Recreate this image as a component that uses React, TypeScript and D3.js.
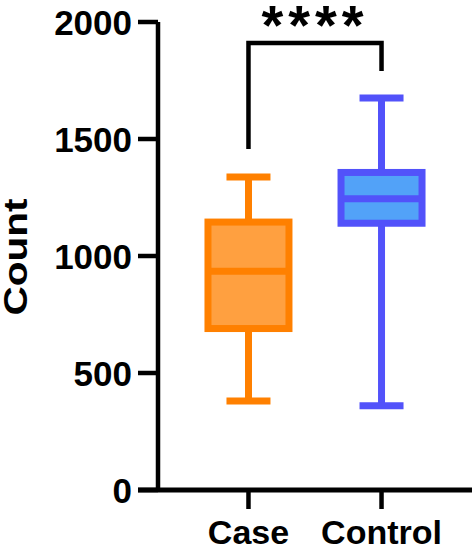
import * as d3 from 'd3';

// data
const groups = ['Case', 'Control'];
const mins = [380, 360];
const q1s = [690, 1140];
const medians = [935, 1245];
const q3s = [1145, 1357];
const maxs = [1338, 1675];
const strokeColors = ['#FF8000', '#5252FA'];
const fillColors = ['#FFA040', '#52A2F8'];
const yTicks = [0, 500, 1000, 1500, 2000];
const yLabel = 'Count';
const sigLabel = '****';

const W = 473;
const H = 548;
const FONT = 'Arial, "Liberation Sans", Helvetica, sans-serif';

const App = () => {
  const y = d3.scaleLinear().domain([0, 2000]).range([490, 22]);
  const x = d3.scalePoint<string>().domain(groups).range([158, 472]).padding(0.68);

  const boxW = 81;
  const capW = 44;
  const sw = 7;

  // significance bracket
  const bx0 = x('Case')!;
  const bx1 = x('Control')!;
  const bTop = 43;

  return (
    <svg width={W} height={H} style={{ position: 'absolute', left: 0, top: 0, background: '#fff' }} fontFamily={FONT}>
      {/* axes */}
      <line x1={158} x2={158} y1={y(2000)} y2={y(0)} stroke="#000" strokeWidth={4.5} />
      <line x1={138} x2={472} y1={y(0)} y2={y(0)} stroke="#000" strokeWidth={5} />
      {yTicks.map(t => (
        <g key={t}>
          <line x1={138} x2={158} y1={y(t)} y2={y(t)} stroke="#000" strokeWidth={4.5} />
          <text x={132} y={y(t) + 12.5} textAnchor="end" fontSize={35} fontWeight="bold">{t}</text>
        </g>
      ))}
      {groups.map(g => (
        <g key={g}>
          <line x1={x(g)} x2={x(g)} y1={y(0)} y2={509} stroke="#000" strokeWidth={4.5} />
          <text x={x(g)} y={544} textAnchor="middle" fontSize={34} fontWeight="bold">{g}</text>
        </g>
      ))}
      <text transform="translate(27,257) rotate(-90)" textAnchor="middle" fontSize={33} fontWeight="bold"
        textLength={117} lengthAdjust="spacingAndGlyphs">{yLabel}</text>

      {/* boxes */}
      {groups.map((g, i) => {
        const cx = x(g)!;
        return (
          <g key={g} stroke={strokeColors[i]} strokeWidth={sw}>
            <line x1={cx} x2={cx} y1={y(maxs[i])} y2={y(q3s[i])} />
            <line x1={cx} x2={cx} y1={y(q1s[i])} y2={y(mins[i])} />
            <line x1={cx - capW / 2} x2={cx + capW / 2} y1={y(maxs[i])} y2={y(maxs[i])} />
            <line x1={cx - capW / 2} x2={cx + capW / 2} y1={y(mins[i])} y2={y(mins[i])} />
            <rect x={cx - boxW / 2} y={y(q3s[i])} width={boxW} height={y(q1s[i]) - y(q3s[i])} fill={fillColors[i]} />
            <line x1={cx - boxW / 2} x2={cx + boxW / 2} y1={y(medians[i])} y2={y(medians[i])} />
          </g>
        );
      })}

      {/* significance */}
      <path d={`M${bx0},${y(maxs[0]) - 28}V${bTop}H${bx1}V${y(maxs[1]) - 27}`} fill="none" stroke="#000" strokeWidth={4.5} />
      <text x={(bx0 + bx1) / 2} y={44} textAnchor="middle" fontSize={56} fontWeight="bold" letterSpacing={5}>{sigLabel}</text>
    </svg>
  );
};

export default App;
